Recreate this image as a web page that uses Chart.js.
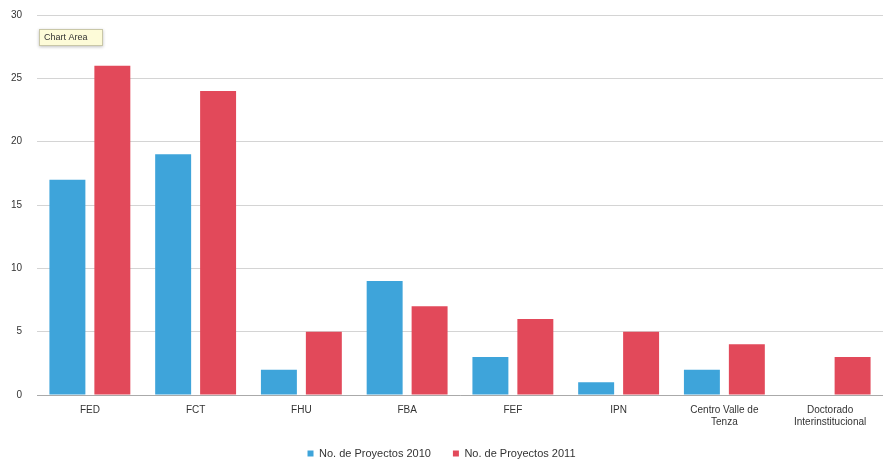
<!DOCTYPE html>
<html>
<head>
<meta charset="utf-8">
<script src="https://cdn.jsdelivr.net/npm/chart.js@4/dist/chart.umd.min.js"></script>
<style>
  html, body { margin: 0; padding: 0; background: #fff; }
  #wrap { width: 883px; height: 461px; }
</style>
</head>
<body>
<div id="wrap"><canvas id="grafico"></canvas></div>
<script>
const categorias = ['FED', 'FCT', 'FHU', 'FBA', 'FEF', 'IPN', ['Centro Valle de', 'Tenza'], ['Doctorado', 'Interinstitucional']];
const proyectos2010 = [17, 19, 2, 9, 3, 1, 2, null];
const proyectos2011 = [26, 24, 5, 7, 6, 5, 4, 3];
const ticksY = [0, 5, 10, 15, 20, 25, 30];

// etiqueta amarilla "Chart Area" como en la captura original
const etiquetaArea = {
  id: 'etiquetaArea',
  afterDraw(chart) {
    const ctx = chart.ctx;
    const x = chart.chartArea.left + 2, y = 29;
    ctx.save();
    ctx.shadowColor = 'rgba(0,0,0,0.25)';
    ctx.shadowBlur = 3;
    ctx.shadowOffsetY = 1;
    ctx.fillStyle = '#fdfbd8';
    ctx.fillRect(x, y, 64, 17);
    ctx.shadowColor = 'transparent';
    ctx.strokeStyle = '#c9c7a8';
    ctx.strokeRect(x + 0.5, y + 0.5, 63, 16);
    ctx.fillStyle = '#333';
    ctx.font = '9px "Liberation Sans", Arial, sans-serif';
    ctx.textBaseline = 'middle';
    ctx.fillText('Chart Area', x + 5, y + 9);
    ctx.restore();
  }
};

new Chart(document.getElementById('grafico').getContext('2d'), {
  type: 'bar',
  data: {
    labels: categorias,
    datasets: [{
      label: 'No. de Proyectos 2010',
      data: proyectos2010,
      backgroundColor: '#3ea4da'
    }, {
      label: 'No. de Proyectos 2011',
      data: proyectos2011,
      backgroundColor: '#e2495a'
    }]
  },
  options: {
    responsive: true,
    maintainAspectRatio: false,
    animation: false,
    datasets: { bar: { categoryPercentage: 0.85, barPercentage: 0.8 } },
    layout: { padding: { top: 15, right: 0, bottom: -8, left: 0 } },
    plugins: {
      tooltip: { enabled: false },
      legend: {
        position: 'bottom',
        labels: {
          boxWidth: 6, boxHeight: 6, padding: 22,
          color: '#333',
          font: { size: 11, family: '"Liberation Sans", Arial, sans-serif' }
        }
      }
    },
    scales: {
      x: {
        grid: { display: false },
        border: { color: '#aaa' },
        afterFit(scale) { scale.height -= 3; },
        ticks: {
          color: '#333', padding: 1, maxRotation: 0, autoSkip: false,
          font: { size: 10, family: '"Liberation Sans", Arial, sans-serif' }
        }
      },
      y: {
        min: 0, max: 30,
        afterFit(scale) { scale.width = 37; scale.paddingTop = 0; },
        afterBuildTicks(scale) { scale.ticks = ticksY.map(v => ({ value: v })); },
        grid: { color: '#d4d4d4', drawTicks: false },
        border: { display: false },
        ticks: {
          color: '#333', padding: 15,
          font: { size: 10, family: '"Liberation Sans", Arial, sans-serif' }
        }
      }
    }
  },
  plugins: [etiquetaArea]
});
</script>
</body>
</html>
